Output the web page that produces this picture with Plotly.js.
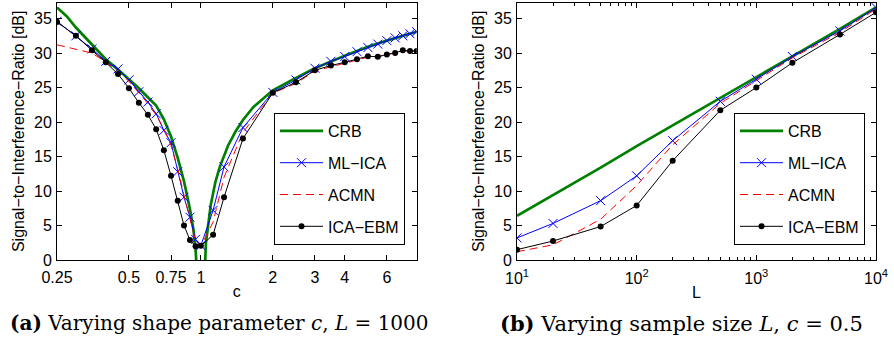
<!DOCTYPE html>
<html>
<head>
<meta charset="utf-8">
<script src="https://cdn.plot.ly/plotly-3.0.1.min.js"></script>
<style>html,body{margin:0;padding:0;background:#fff;}#chart{width:894px;height:340px;}</style>
</head>
<body>
<div id="chart"></div>
<script>
// ---- Panel (a): varying shape parameter c, L = 1000 ----
const cVals = [0.25,0.3,0.35,0.4,0.45,0.5,0.55,0.6,0.65,0.7,0.75,0.8,0.85,0.9,0.95,1.0,1.125,1.25,1.5,2,2.5,3,3.5,4,4.5,5,5.5,6,6.5,7,7.5,8];
const mlicaA = [34.6,32.5,30.6,28.8,27.7,26.1,24.4,22.9,21.2,18.8,17.0,12.8,9.1,6.2,3.0,2.1,7.2,13.5,19.2,24.3,26.1,27.8,28.8,29.5,30.2,30.8,31.3,31.8,32.2,32.5,32.8,33.1];
const acmnA  = [31.2,30.6,30.0,28.7,27.4,25.9,24.2,22.7,21.0,19.0,16.6,13.2,9.4,5.8,2.8,2.0,5.5,12.0,18.5,24.2,25.6,27.4,28.0,28.5,29.0,29.4,29.5,29.8,30.0,30.3,30.3,30.3];
const icaebmA = [34.5,32.5,30.4,28.65,26.95,24.9,22.8,21.05,18.95,15.9,12.2,8.6,5.0,2.9,2.0,2.05,3.65,9.1,17.6,24.25,25.75,27.5,28.2,28.65,29.1,29.55,29.45,29.8,30.0,30.4,30.3,30.3];
const cCRB   = [0.25,0.275,0.3,0.35,0.4,0.45,0.5,0.55,0.6,0.65,0.7,0.75,0.8,0.85,0.9,0.93,0.95,0.96,1.04,1.05,1.1,1.15,1.2,1.3,1.4,1.5,1.66,2,2.5,3,4,5,6,7,8];
const crbA   = [36.6,35.3,33.7,31.2,29.1,27.6,26.2,24.9,23.6,22.4,20.4,17.9,14.8,11.4,7.4,4.5,1.5,-1,-1,2.5,8.0,11.3,13.5,16.6,18.7,20.3,22.2,24.6,26.4,27.8,29.6,30.9,31.8,32.5,33.1];
const cTickVals = [0.25,0.5,0.75,1,2,3,4,6];
const cTickText = ['0.25','0.5','0.75','1','2','3','4','6'];

// ---- Panel (b): varying sample size L, c = 0.5 ----
const LVals = [10,20,50,100,200,500,1000,2000,5000,10000];
const crbB    = [6.4,9.4,13.4,16.5,19.5,23.5,26.5,29.5,33.5,36.6];
const mlicaB  = [3.2,5.3,8.6,12.2,17.3,23.0,26.2,29.5,33.2,36.6];
const acmnB   = [1.2,2.2,5.9,10.8,16.7,22.7,26.0,29.3,33.0,36.4];
const icaebmB = [1.5,2.75,4.85,7.9,14.4,21.7,25.0,28.6,32.7,35.9];
const LTickVals = [10,100,1000,10000];
const LTickText = ['10<sup>1</sup>','10<sup>2</sup>','10<sup>3</sup>','10<sup>4</sup>'];

const yTickVals = [0,5,10,15,20,25,30,35];
const names = ['CRB','ML\u2212ICA','ACMN','ICA\u2212EBM'];
const yTitle = 'Signal\u2212to\u2212Interference\u2212Ratio [dB]';

const SANS = 'Liberation Sans, Arial, Helvetica, sans-serif';
const SERIF = 'DejaVu Serif, Liberation Serif, serif';

function styleFor(i){
  if(i===0) return {mode:'lines', line:{color:'#008000', width:2.7}};
  if(i===1) return {mode:'lines+markers', line:{color:'#0000ff', width:1}, marker:{symbol:'x-thin-open', size:9, line:{color:'#0000ff', width:1}, color:'#0000ff'}};
  if(i===2) return {mode:'lines', line:{color:'#ff0000', width:1, dash:'8px,5px'}};
  return {mode:'lines+markers', line:{color:'#000000', width:1}, marker:{symbol:'circle', size:6, color:'#000000'}};
}

const traces = [];
const dataA = [[cCRB,crbA],[cVals,mlicaA],[cVals,acmnA],[cVals,icaebmA]];
const dataB = [[LVals,crbB],[LVals,mlicaB],[LVals,acmnB],[LVals,icaebmB]];
dataA.forEach((d,i)=>{
  traces.push(Object.assign({x:d[0], y:d[1], name:names[i], xaxis:'x', yaxis:'y', legend:'legend', legendgroup:'a'+i, legendrank:i+1}, styleFor(i)));
});
dataB.forEach((d,i)=>{
  traces.push(Object.assign({x:d[0], y:d[1], name:names[i], xaxis:'x2', yaxis:'y2', legend:'legend2', legendgroup:'b'+i, legendrank:i+1}, styleFor(i)));
});

const minorL = [];
for(let d=1; d<=3; d++){ for(let k=2;k<=9;k++){ minorL.push(k*Math.pow(10,d)); } }

const axCommon = {ticks:'inside', ticklen:5, tickcolor:'#000', tickwidth:1, showline:true, linecolor:'#000', linewidth:1, mirror:'ticks', showgrid:false, zeroline:false, tickfont:{family:SANS, size:16}};
const yDom = [1-260/340, 1-2.7/340];
const legCommon = {xanchor:'left', yanchor:'top', bordercolor:'#000', borderwidth:1, bgcolor:'#fff', font:{family:SANS, size:16}, itemwidth:43, tracegroupgap:8};

const layout = {
  width:894, height:340,
  margin:{l:0,r:0,t:0,b:0},
  paper_bgcolor:'#fff', plot_bgcolor:'#fff',
  font:{family:SANS, size:15, color:'#000'},
  showlegend:true,
  xaxis:Object.assign({}, axCommon, {domain:[57/894, 416.7/894], anchor:'y', type:'log', range:[Math.log10(0.25), Math.log10(8)], tickmode:'array', tickvals:cTickVals, ticktext:cTickText, ticklabelstandoff:3, title:{text:'c', font:{family:SANS, size:16}, standoff:0}}),
  yaxis:Object.assign({}, axCommon, {domain:yDom, anchor:'x', range:[0,37.3], tickmode:'array', tickvals:yTickVals, ticklabelstandoff:1, title:{text:yTitle, font:{family:SANS, size:16}, standoff:5}}),
  xaxis2:Object.assign({}, axCommon, {domain:[517/894, 876/894], anchor:'y2', type:'log', range:[1,4], tickmode:'array', tickvals:LTickVals, ticktext:LTickText, ticklabelstandoff:4, minor:{tickvals:minorL, ticks:'inside', ticklen:3, tickcolor:'#000', showgrid:false}, title:{text:'L', font:{family:SANS, size:16}, standoff:0}}),
  yaxis2:Object.assign({}, axCommon, {domain:yDom, anchor:'x2', range:[0,37.3], tickmode:'array', tickvals:yTickVals, ticklabelstandoff:1, title:{text:yTitle, font:{family:SANS, size:16}, standoff:5}}),
  legend:Object.assign({}, legCommon, {x:274/894, y:1-113/340}),
  legend2:Object.assign({}, legCommon, {x:734/894, y:1-113/340}),
  annotations:[
    {xref:'paper', yref:'paper', x:219/894, y:1-323/340, xanchor:'center', yanchor:'middle', showarrow:false,
     text:'<b>(a)</b> Varying shape parameter <i>c</i>, <i>L</i> = 1000', font:{family:SERIF, size:20, color:'#000'}},
    {xref:'paper', yref:'paper', x:681/894, y:1-323/340, xanchor:'center', yanchor:'middle', showarrow:false,
     text:'<b>(b)</b> Varying sample size <i>L</i>, <i>c</i> = 0.5', font:{family:SERIF, size:21, color:'#000'}}
  ]
};

Plotly.newPlot('chart', traces, layout, {staticPlot:true, displayModeBar:false});
</script>
</body>
</html>
